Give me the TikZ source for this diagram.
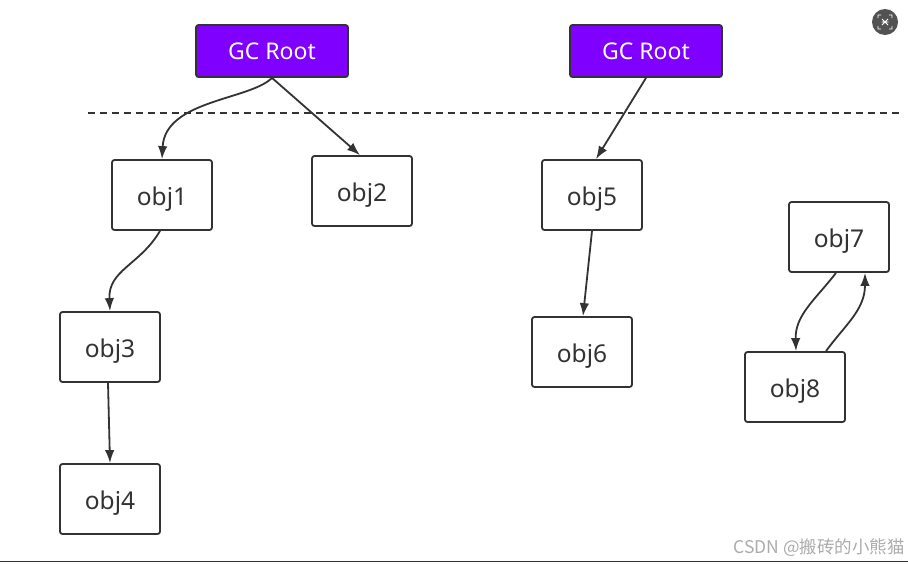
\documentclass[tikz,border=0pt]{standalone}
\usepackage{fontspec}
\setmainfont{Noto Sans}
\newfontfamily\cjk{Noto Sans CJK SC}
\usetikzlibrary{arrows.meta}
\definecolor{ink}{HTML}{333333}
\definecolor{rootfill}{HTML}{7F00FF}
\tikzset{
  objbox/.style={draw=ink, line width=1.8pt, rounded corners=2.5pt, minimum width=100pt, minimum height=70pt, text=ink, font=\fontsize{24.5}{28}\selectfont, inner sep=0pt, text height=20pt, text depth=0pt},
  rootbox/.style={draw=ink, line width=1.8pt, rounded corners=2.5pt, fill=rootfill, minimum width=152pt, minimum height=52pt, text=white, font=\fontsize{23}{27}\selectfont, inner sep=0pt},
  conn/.style={draw=ink, line width=1.8pt, -{Latex[length=13pt,width=9.5pt]}},
}
\begin{document}
\begin{tikzpicture}[x=1pt,y=-1pt]
\useasboundingbox[fill=white] (0,0) rectangle (908,563);
\node[rootbox] (r1) at (272,51) {GC Root};
\node[rootbox] (r2) at (646,51) {GC Root};
\coordinate (dl) at (88,113);
\coordinate (dr) at (900,113);
\draw[ink, line width=1.8pt, dash pattern=on 7pt off 5pt] (dl) -- (dr);
\node[objbox] (o1) at (162,195) {obj1};
\node[objbox] (o2) at (362,191) {obj2};
\node[objbox] (o5) at (592,195) {obj5};
\node[objbox] (o3) at (110,347) {obj3};
\node[objbox] (o4) at (110,499) {obj4};
\node[objbox] (o6) at (582,352) {obj6};
\node[objbox] (o7) at (839,237) {obj7};
\node[objbox] (o8) at (795,387) {obj8};
\draw[conn] (r1.south) .. controls (250,100) and (165,100) .. ([xshift=0pt]o1.north);
\draw[conn] (r1.south) -- ([xshift=-2pt]o2.north);
\draw[conn] (r2.south) -- ([xshift=4pt]o5.north);
\draw[conn] ([xshift=-2pt]o1.south) .. controls (140,265) and (108,270) .. (o3.north);
\draw[conn] ([xshift=-2pt]o3.south) -- (o4.north);
\draw[conn] (o5.south) -- ([xshift=1pt]o6.north);
\draw[conn] ([xshift=-3pt]o7.south) .. controls (815,300) and (795,315) .. ([xshift=1pt]o8.north);
\draw[conn] ([xshift=31pt]o8.north) .. controls (845,325) and (865,310) .. ([xshift=26pt]o7.south);
\node[text=gray!65, font=\cjk\fontsize{17.5}{20}\selectfont, anchor=east, inner sep=0pt] (wm) at (905,548) {CSDN @搬砖的小熊猫};
\node[circle, fill=black!68, minimum size=26pt, inner sep=0pt] (ic) at (885,22) {};
\draw[white, line width=0.9pt] ([shift={(-7,-4)}]ic.center) -- ++(0,-3) -- ++(3,0)
  ([shift={(4,-7)}]ic.center) -- ++(3,0) -- ++(0,3)
  ([shift={(7,4)}]ic.center) -- ++(0,3) -- ++(-3,0)
  ([shift={(-4,7)}]ic.center) -- ++(-3,0) -- ++(0,-3)
  ([shift={(-3,-3)}]ic.center) -- ([shift={(3,3)}]ic.center)
  ([shift={(3,-3)}]ic.center) -- ([shift={(-3,3)}]ic.center)
  ([shift={(-3.5,0)}]ic.center) -- ([shift={(3.5,0)}]ic.center);
\coordinate (bl) at (0,561.5);
\coordinate (br) at (908,561.5);
\draw[ink, line width=1.5pt] (bl) -- (br);
\end{tikzpicture}
\end{document}
